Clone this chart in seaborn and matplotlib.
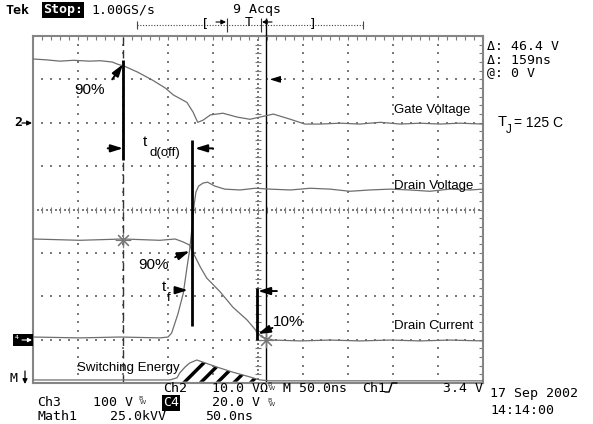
import numpy as np
import pandas as pd
import matplotlib
matplotlib.use("Agg")
import matplotlib.pyplot as plt
from matplotlib.patches import Rectangle
import seaborn as sns

# screen units: time in ns from the left edge (50 ns/div), level in divisions (0 = bottom, 8 = top)
gate_t = [0, 15, 30, 45, 63, 75, 88, 94, 102, 116, 133, 147, 156, 171, 178, 183, 189, 197, 211, 227,
          241, 252, 267, 286, 302, 319, 341, 363, 386, 408, 430, 452, 474, 500]
gate_lvl = [7.47, 7.45, 7.42, 7.44, 7.42, 7.43, 7.40, 7.35, 7.30, 7.17, 6.98, 6.80, 6.64, 6.47, 6.24, 6.01, 6.06, 6.18, 6.22, 6.13,
            6.08, 6.13, 6.20, 6.08, 5.97, 5.97, 5.99, 5.97, 6.01, 5.97, 5.99, 5.97, 5.99, 5.97]

vd_t = [0, 52, 97, 141, 150, 154, 161, 167, 171, 174, 177, 179, 181, 184, 189, 194, 202, 213, 230, 247,
        263, 286, 308, 330, 352, 374, 397, 419, 441, 463, 486, 500]
vd_lvl = [1.06, 1.04, 1.06, 1.04, 1.06, 1.15, 1.59, 2.07, 2.65, 3.06, 3.64, 4.10, 4.40, 4.54, 4.61, 4.63, 4.54, 4.47, 4.45, 4.49,
          4.47, 4.45, 4.49, 4.47, 4.42, 4.45, 4.47, 4.45, 4.42, 4.47, 4.45, 4.47]

id_t = [0, 52, 100, 141, 158, 167, 174, 178, 186, 193, 208, 222, 238, 249, 254, 267, 297, 330, 363, 397, 430, 463, 500]
id_lvl = [3.32, 3.29, 3.32, 3.29, 3.32, 3.25, 3.18, 3.00, 2.67, 2.42, 2.10, 1.75, 1.45, 1.18, 1.06, 0.99, 0.97, 0.99, 0.97,
          0.99, 0.97, 0.99, 0.97]

energy_t = [0, 74, 152, 160, 163, 169, 174, 182, 189, 204, 222, 241, 252, 263, 297, 352, 408, 500]
energy_lvl = [0.07, 0.07, 0.07, 0.12, 0.23, 0.37, 0.46, 0.53, 0.48, 0.37, 0.25, 0.14, 0.07, 0.05, 0.05, 0.05, 0.05, 0.05]
energy_window = (158, 255)

cursor_t = [100, 259]
cursor_lvl = [3.29, 0.99]

# measurement bars drawn over the traces
meas_t = [100, 177, 249]
meas_top = [7.44, 5.60, 2.19]
meas_bot = [5.14, 1.31, 0.99]

sns.set_style("white")
plt.rcParams["font.family"] = ["DejaVu Sans"]
plt.rcParams["hatch.linewidth"] = 2.5

TRACE = "#6e6e6e"
GRID = "#7a7a7a"
tek = dict(family="DejaVu Sans Mono", fontsize=9.5, color="black", va="center")
lbl = dict(family="Liberation Sans", color="black", va="center")

fig = plt.figure(figsize=(5.93, 4.24), dpi=100)
ax = fig.add_axes([33 / 593, 41 / 424, 450 / 593, 347 / 424])
ax.set_xlim(0, 500)
ax.set_ylim(0, 8)

# graticule: dotted lines every division, finer ticks on the centre cross
major_x = np.arange(50, 500, 50)
major_y = np.arange(1, 8, 1)
minor_x = np.arange(0, 501, 10)
minor_y = np.arange(0, 8.01, 0.2)
gx, gy = np.meshgrid(major_x, minor_y)
ax.scatter(gx.ravel(), gy.ravel(), s=1.2, marker="s", color=GRID, lw=0, zorder=1)
gx, gy = np.meshgrid(minor_x, major_y)
ax.scatter(gx.ravel(), gy.ravel(), s=1.2, marker="s", color=GRID, lw=0, zorder=1)
ax.scatter(np.full(minor_y.size, 250), minor_y, marker="_", s=18, color=GRID, lw=0.8, zorder=1)
ax.scatter(minor_x, np.full(minor_x.size, 4), marker="|", s=18, color=GRID, lw=0.8, zorder=1)
ax.scatter(np.full(40, 250), np.arange(0.1, 8, 0.2), s=1.2, marker="s", color=GRID, lw=0, zorder=1)
ax.scatter(np.arange(5, 500, 10), np.full(50, 4), s=1.2, marker="s", color=GRID, lw=0, zorder=1)

ax.set_xticks(np.arange(0, 501, 50))
ax.set_yticks(np.arange(0, 8.1, 1))
ax.set_xticks(minor_x, minor=True)
ax.set_yticks(minor_y, minor=True)
ax.tick_params(which="both", direction="in", length=3, width=0.8, color=GRID,
               top=True, right=True, labelbottom=False, labelleft=False)
for sp in ax.spines.values():
    sp.set_color("#858585")
    sp.set_linewidth(1.5)

traces = [(gate_t, gate_lvl), (vd_t, vd_lvl), (id_t, id_lvl), (energy_t, energy_lvl)]
for t, lvl in traces:
    df = pd.DataFrame({"t": t, "level": lvl})
    sns.lineplot(data=df, x="t", y="level", ax=ax, color=TRACE, lw=0.9, estimator=None, zorder=3)
ax.set_xlabel("")
ax.set_ylabel("")

et = np.array(energy_t)
el = np.array(energy_lvl)
ax.fill_between(et, el, 0.03, where=(et >= energy_window[0]) & (et <= energy_window[1]),
                facecolor="none", edgecolor="black", hatch="//", lw=0, zorder=2)

# cursors
ax.axvline(cursor_t[0], color="#333333", lw=1, ls=(0, (6, 3)), zorder=2)
ax.axvline(cursor_t[1], color="black", lw=1, zorder=2)
ax.scatter(cursor_t, cursor_lvl, marker=(8, 2, 0), s=110, color="#777777", lw=0.8, zorder=4)

ax.vlines(meas_t, meas_bot, meas_top, color="black", lw=2.0, zorder=5)

arrow = dict(arrowstyle="-|>,head_length=0.8,head_width=0.25", color="black", lw=1.4,
             shrinkA=0, shrinkB=0, mutation_scale=9)
for tail, head in [((88, 7.00), (100, 7.35)), ((83, 5.41), (100, 5.41)), ((200, 5.41), (180, 5.41)),
                   ((158, 2.90), (174, 3.04)), ((158, 2.14), (172, 2.14)), ((271, 2.12), (250, 2.12)),
                   ((266, 1.27), (250, 1.13))]:
    ax.annotate("", xy=head, xytext=tail, arrowprops=arrow, zorder=6)
ax.annotate("", xy=(263, 7.0), xytext=(276, 7.0),
            arrowprops=dict(arrowstyle="-|>,head_length=0.8,head_width=0.25", color="black", lw=0.8,
                            shrinkA=0, shrinkB=0, mutation_scale=8))

ax.text(63, 6.75, "90%", fontsize=11, ha="center", **lbl)
ax.text(122, 5.55, "t", fontsize=11, ha="left", **lbl)
ax.text(129, 5.30, "d(off)", fontsize=9.5, ha="left", **lbl)
ax.text(134, 2.72, "90%", fontsize=11, ha="center", **lbl)
ax.text(143, 2.21, "t", fontsize=11, ha="left", **lbl)
ax.text(149, 1.96, "f", fontsize=9.5, ha="left", **lbl)
ax.text(267, 1.41, "10%", fontsize=11, ha="left", **lbl)
ax.text(401, 6.29, "Gate Voltage", fontsize=9.5, ha="left", **lbl)
ax.text(401, 4.54, "Drain Voltage", fontsize=9.5, ha="left", **lbl)
ax.text(401, 1.31, "Drain Current", fontsize=9.5, ha="left", **lbl)
ax.text(49, 0.35, "Switching Energy", fontsize=9.5, ha="left", zorder=6, **lbl)

# screen read-outs around the graticule, in pixel units
ov = fig.add_axes([0, 0, 1, 1], zorder=5)
ov.set_xlim(0, 593)
ov.set_ylim(424, 0)
ov.axis("off")
ov.patch.set_alpha(0)

ov.text(5, 10, "Tek", fontweight="bold", **tek)
ov.text(43, 10, "Stop:", color="white", family="DejaVu Sans Mono", fontsize=9.5, va="center", fontweight="bold",
        bbox=dict(facecolor="black", edgecolor="none", pad=0.8))
ov.text(91, 10, "1.00GS/s", **tek)
ov.text(233, 10, "9 Acqs", **tek)

ov.plot([137, 363], [25, 25], color="#444444", lw=0.8, ls=(0, (1, 1.5)))
ov.vlines([137, 363], 21, 29, color="#444444", lw=0.8)
ov.text(205, 24, "[", ha="center", **tek)
ov.text(313, 24, "]", ha="center", **tek)
ov.text(249, 22, "T", ha="center", **tek)
ov.vlines([227, 261], 18, 32, color="#333333", lw=0.8)
ov.vlines(266, 18, 36, color="black", lw=1)
ov.annotate("", xy=(226, 22), xytext=(216, 22),
            arrowprops=dict(arrowstyle="-|>", color="black", lw=0.8, shrinkA=0, shrinkB=0, mutation_scale=7))
ov.annotate("", xy=(262, 22), xytext=(272, 22),
            arrowprops=dict(arrowstyle="-|>", color="black", lw=0.8, shrinkA=0, shrinkB=0, mutation_scale=7))

ov.text(487, 46, "Δ: 46.4 V", **tek)
ov.text(487, 60, "Δ: 159ns", **tek)
ov.text(487, 73, "@: 0 V", **tek)

ov.text(498, 122, "T", fontsize=10.5, ha="left", **lbl)
ov.text(506, 130, "J", fontsize=8.5, ha="left", **lbl)
ov.text(514, 123, "= 125 C", fontsize=10, ha="left", **lbl)

ov.text(14, 123, "2", fontweight="bold", **tek)
ov.annotate("", xy=(32, 123), xytext=(22, 123),
            arrowprops=dict(arrowstyle="-|>", color="black", lw=0.9, shrinkA=0, shrinkB=0, mutation_scale=7))
ov.add_patch(Rectangle((13, 334), 20, 12, facecolor="black", edgecolor="none"))
ov.text(15, 340, "⁴", color="white", family="DejaVu Sans", fontsize=7, va="center")
ov.annotate("", xy=(32, 340), xytext=(22, 340),
            arrowprops=dict(arrowstyle="-|>", color="white", lw=0.8, shrinkA=0, shrinkB=0, mutation_scale=6))
ov.text(9, 378, "M", **tek)
ov.annotate("", xy=(25, 384), xytext=(25, 371),
            arrowprops=dict(arrowstyle="-|>", color="black", lw=0.9, shrinkA=0, shrinkB=0, mutation_scale=7))

ov.text(163, 388, "Ch2", **tek)
ov.text(212, 388, "10.0 VΩ", **tek)
ov.text(283, 388, "M 50.0ns", **tek)
ov.text(362, 388, "Ch1", **tek)
ov.plot([385, 389, 392, 397], [392, 392, 383, 383], color="black", lw=1)
ov.text(443, 388, "3.4 V", **tek)

ov.text(37, 403, "Ch3", **tek)
ov.text(93, 403, "100 V", **tek)
ov.text(163, 403, "C4", color="white", family="DejaVu Sans Mono", fontsize=9.5, va="center",
        bbox=dict(facecolor="black", edgecolor="none", pad=0.8))
ov.text(212, 403, "20.0 V", **tek)
for bx, by in [(138, 401), (267, 386), (267, 402)]:
    ov.text(bx, by - 2, "B", family="DejaVu Sans", fontsize=4.5, va="center")
    ov.text(bx + 2, by + 2, "W", family="DejaVu Sans", fontsize=4.5, va="center")

ov.text(37, 417, "Math1", **tek)
ov.text(110, 417, "25.0kVV", **tek)
ov.text(205, 417, "50.0ns", **tek)

ov.text(490, 393, "17 Sep 2002", **tek)
ov.text(490, 410, "14:14:00", **tek)

fig.savefig("out.png", dpi=100)
